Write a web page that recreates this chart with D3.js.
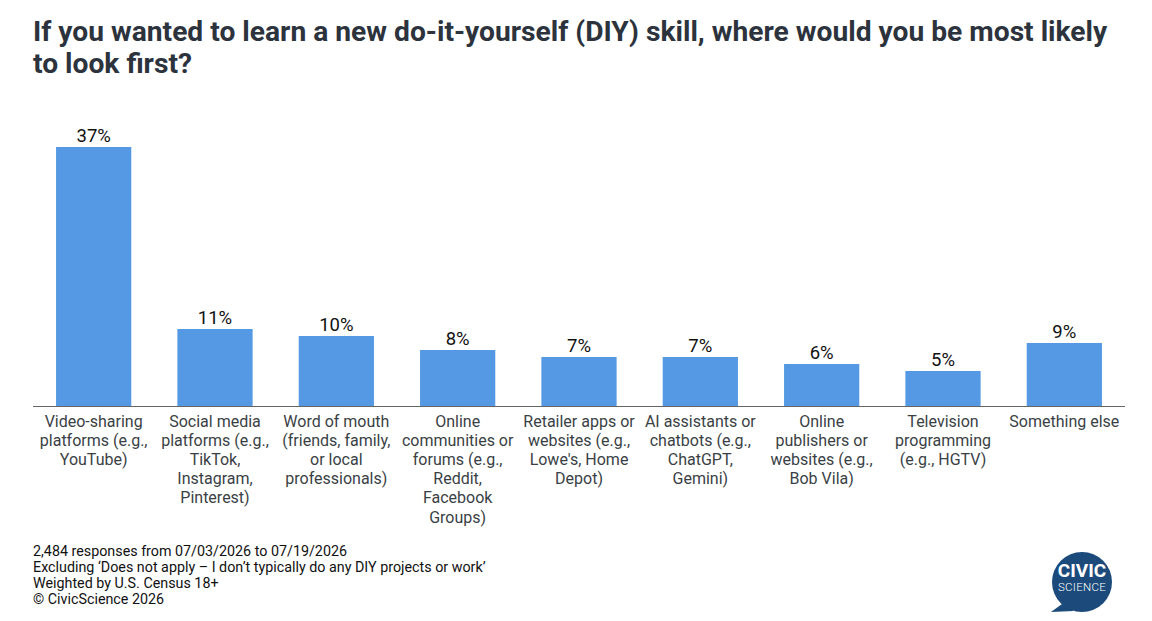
<!DOCTYPE html>
<html><head><meta charset="utf-8">
<script src="https://cdn.jsdelivr.net/npm/d3@7"></script>
<style>body{margin:0;background:#fff;}svg{display:block;font-family:Roboto,sans-serif;}</style>
</head><body><svg id="c" width="1152" height="621"></svg>
<script>
const categories = [
  "Video-sharing platforms (e.g., YouTube)",
  "Social media platforms (e.g., TikTok, Instagram, Pinterest)",
  "Word of mouth (friends, family, or local professionals)",
  "Online communities or forums (e.g., Reddit, Facebook Groups)",
  "Retailer apps or websites (e.g., Lowe's, Home Depot)",
  "AI assistants or chatbots (e.g., ChatGPT, Gemini)",
  "Online publishers or websites (e.g., Bob Vila)",
  "Television programming (e.g., HGTV)",
  "Something else"
];
const labelLines = [
  ["Video-sharing","platforms (e.g.,","YouTube)"],
  ["Social media","platforms (e.g.,","TikTok,","Instagram,","Pinterest)"],
  ["Word of mouth","(friends, family,","or local","professionals)"],
  ["Online","communities or","forums (e.g.,","Reddit,","Facebook","Groups)"],
  ["Retailer apps or","websites (e.g.,","Lowe's, Home","Depot)"],
  ["AI assistants or","chatbots (e.g.,","ChatGPT,","Gemini)"],
  ["Online","publishers or","websites (e.g.,","Bob Vila)"],
  ["Television","programming","(e.g., HGTV)"],
  ["Something else"]
];
const values = [37, 11, 10, 8, 7, 7, 6, 5, 9];
const titleLines = ["If you wanted to learn a new do-it-yourself (DIY) skill, where would you be most likely","to look first?"];
const footnotes = [
  "2,484 responses from 07/03/2026 to 07/19/2026",
  "Excluding \u2018Does not apply \u2013 I don\u2019t typically do any DIY projects or work\u2019",
  "Weighted by U.S. Census 18+",
  "\u00a9 CivicScience 2026"
];

const svg = d3.select("#c");
const x = d3.scaleBand().domain(categories).range([33, 1125]).paddingInner(0.38).paddingOuter(0.19);
const y = d3.scaleLinear().domain([0, 40]).range([406, 126]);

svg.append("g").selectAll("text").data(titleLines).join("text")
  .attr("x", 33).attr("y", (d,i)=>41 + i*32)
  .attr("font-size", 28.2).attr("font-weight", 700).attr("fill", "#2c333d")
  .text(d=>d);

svg.append("g").selectAll("rect").data(values).join("rect")
  .attr("x", (d,i)=>x(categories[i])).attr("width", x.bandwidth())
  .attr("y", d=>y(d)).attr("height", d=>y(0)-y(d)).attr("fill", "#5598e3");

svg.append("g").selectAll("text").data(values).join("text")
  .attr("x", (d,i)=>x(categories[i]) + x.bandwidth()/2).attr("y", d=>y(d)-5)
  .attr("text-anchor", "middle").attr("font-size", 18.5).attr("fill", "#111")
  .text(d=>d + "%");

const ax = svg.append("g").attr("transform", "translate(0,406)")
  .call(d3.axisBottom(x).tickSize(0).tickFormat(""));
ax.select(".domain").attr("stroke", "#666").attr("stroke-width", 1).attr("d", "M33,0.5H1125");

const lg = svg.append("g");
categories.forEach((c,i)=>{
  const t = lg.append("text").attr("x", x(c) + x.bandwidth()/2).attr("y", 426.5)
    .attr("text-anchor", "middle").attr("font-size", 16).attr("fill", "#3a3f45");
  labelLines[i].forEach((l,j)=>t.append("tspan").attr("x", x(c) + x.bandwidth()/2).attr("dy", j===0?0:19.2).text(l));
});

svg.append("g").selectAll("text").data(footnotes).join("text")
  .attr("x", 33).attr("y", (d,i)=>556 + i*16)
  .attr("font-size", 14.3).attr("fill", "#111").text(d=>d);

const logo = svg.append("g").attr("transform", "translate(1082,582)");
logo.append("path").attr("d", "M-20,22 L-31,30 L-8,29 Z").attr("fill", "#1b4a7b");
logo.append("circle").attr("r", 30).attr("fill", "#1b4a7b");
logo.append("text").attr("y", -5).attr("text-anchor", "middle").attr("font-size", 19).attr("font-weight", 700).attr("fill", "#fff").text("CIVIC");
logo.append("text").attr("y", 9).attr("text-anchor", "middle").attr("font-size", 11.5).attr("font-weight", 300).attr("letter-spacing", 0.3).attr("fill", "#fff").text("SCIENCE");
</script></body></html>
